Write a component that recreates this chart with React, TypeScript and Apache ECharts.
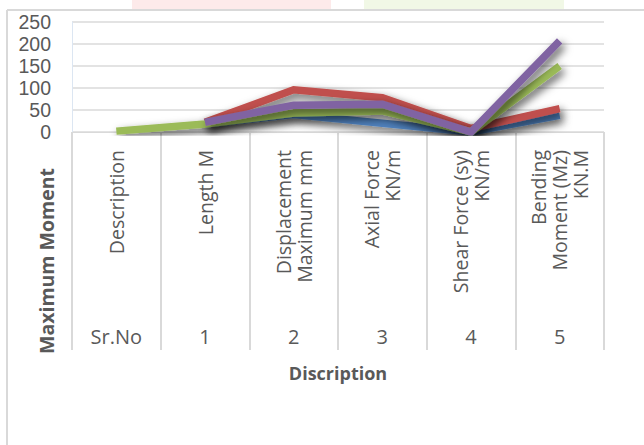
import React, { useEffect, useRef } from "react";
import * as echarts from "echarts";

const categories = [
  "Description",
  "Length M",
  "Displacement\nMaximum mm",
  "Axial Force\nKN/m",
  "Shear Force (sy)\nKN/m",
  "Bending\nMoment (Mz)\nKN.M",
];
const srNo = ["Sr.No", "1", "2", "3", "4", "5"];
const yTicks = { min: 0, max: 250, interval: 50 };

const blueValues = [null, 18, 40, 20, 0, 38];
const redValues = [null, 22, 96, 78, 8, 53];
const greenValues = [2, 18, 43, 48, 0, 150];
const purpleValues = [null, 22, 61, 63, 0, 207];

const seriesDefs = [
  { name: "Series1", color: "#4F81BD", data: blueValues },
  { name: "Series2", color: "#C0504D", data: redValues },
  { name: "Series3", color: "#9BBB59", data: greenValues },
  { name: "Series4", color: "#8064A2", data: purpleValues },
];

const TEXT = "#595959";
const FONT = "'Open Sans', 'DejaVu Sans', sans-serif";
const Y_FONT = "'Liberation Sans', Arial, sans-serif";

export default function App() {
  const ref = useRef<HTMLDivElement>(null);
  useEffect(() => {
    if (!ref.current) return;
    const chart = echarts.init(ref.current, undefined, { renderer: "svg" });
    chart.setOption({
      animation: false,
      backgroundColor: "#ffffff",
      grid: { left: 72, right: 40, top: 22, bottom: 313, containLabel: false },
      xAxis: [
        {
          type: "category",
          data: categories,
          boundaryGap: true,
          axisLine: { show: true, lineStyle: { color: "#d9d9d9", width: 1 } },
          axisTick: {
            show: true,
            alignWithLabel: false,
            length: 218,
            lineStyle: { color: "#d9d9d9", width: 2 },
          },
          axisLabel: {
            rotate: 90,
            margin: 18,
            interval: 0,
            fontSize: 19.5,
            lineHeight: 21,
            color: TEXT,
            fontFamily: FONT,
          },
        },
        {
          type: "category",
          data: srNo,
          position: "bottom",
          gridIndex: 0,
          axisLine: { show: false },
          axisTick: { show: false },
          axisLabel: {
            margin: 194,
            interval: 0,
            fontSize: 20,
            color: TEXT,
            fontFamily: FONT,
          },
        },
      ],
      yAxis: {
        type: "value",
        min: yTicks.min,
        max: yTicks.max,
        interval: yTicks.interval,
        axisLine: { show: true, lineStyle: { color: "#dce6f2" } },
        axisTick: { show: false },
        axisLabel: {
          fontSize: 19.5,
          lineHeight: 20,
          color: TEXT,
          fontFamily: Y_FONT,
          margin: 21,
        },
        splitLine: { lineStyle: { color: "#e3e3e3", width: 2 } },
      },
      series: seriesDefs.map((s) => ({
        name: s.name,
        type: "line",
        xAxisIndex: 0,
        data: s.data,
        symbol: "none",
        connectNulls: false,
        lineStyle: {
          color: s.color,
          width: 7.5,
          cap: "butt",
          join: "miter",
          shadowColor: "rgba(0,0,0,0.65)",
          shadowBlur: 8,
          shadowOffsetX: 3,
          shadowOffsetY: 4,
        },
        itemStyle: { color: s.color },
      })),
      graphic: [
        {
          type: "rect",
          shape: { x: 132, y: 0, width: 199, height: 9 },
          style: { fill: "#fdeaea" },
        },
        {
          type: "rect",
          shape: { x: 364, y: 0, width: 200, height: 9 },
          style: { fill: "#f1f8e6" },
        },
        {
          type: "line",
          shape: { x1: 7, y1: 10, x2: 644, y2: 10 },
          style: { stroke: "#d9d9d9", lineWidth: 2 },
        },
        {
          type: "line",
          shape: { x1: 7, y1: 10, x2: 7, y2: 445 },
          style: { stroke: "#d9d9d9", lineWidth: 2 },
        },
        {
          type: "text",
          x: 46,
          y: 261,
          rotation: Math.PI / 2,
          style: {
            text: "Maximum Moment",
            fontSize: 19.5,
            fontWeight: "bold",
            fill: TEXT,
            fontFamily: FONT,
            align: "center",
            verticalAlign: "middle",
          },
        },
        {
          type: "text",
          x: 338,
          y: 373,
          style: {
            text: "Discription",
            fontSize: 18,
            fontWeight: "bold",
            fill: TEXT,
            fontFamily: FONT,
            align: "center",
            verticalAlign: "middle",
          },
        },
      ],
    });
    return () => chart.dispose();
  }, []);
  return (
    <div
      ref={ref}
      style={{ position: "fixed", left: 0, top: 0, width: 644, height: 445 }}
    />
  );
}
